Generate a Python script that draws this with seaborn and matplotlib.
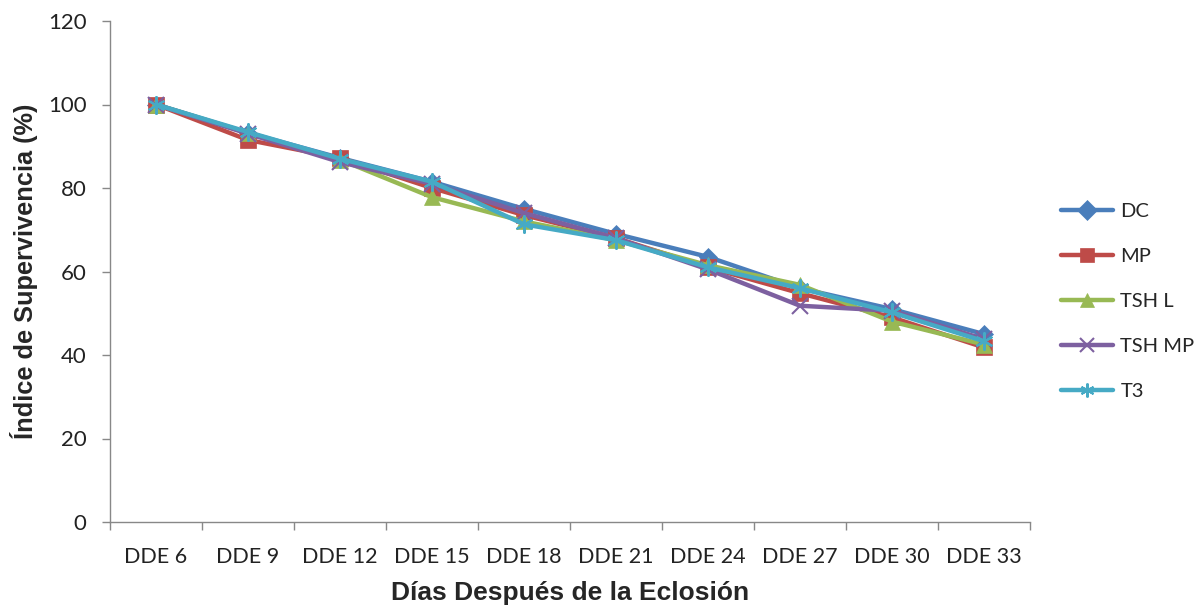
import matplotlib
matplotlib.use("Agg")
import matplotlib.pyplot as plt
import seaborn as sns
import pandas as pd
import numpy as np

categories = ["DDE 6", "DDE 9", "DDE 12", "DDE 15", "DDE 18", "DDE 21", "DDE 24", "DDE 27", "DDE 30", "DDE 33"]
dc = [100, 93.2, 87.2, 81.5, 75.0, 69.0, 63.5, 56.0, 51.0, 45.0]
mp = [100, 91.5, 87.2, 80.0, 73.5, 68.0, 61.0, 54.8, 49.0, 41.8]
tsh_l = [100, 93.2, 86.8, 77.8, 72.0, 67.5, 61.5, 56.8, 48.0, 42.5]
tsh_mp = [100, 93.0, 86.2, 81.0, 74.0, 68.0, 60.5, 51.8, 50.6, 43.8]
t3 = [100, 93.4, 87.0, 81.5, 71.3, 67.5, 61.0, 56.0, 50.2, 43.3]
series_names = ["DC", "MP", "TSH L", "TSH MP", "T3"]
y_ticks = [0, 20, 40, 60, 80, 100, 120]

colors = ["#4A7EBB", "#BE4B48", "#98B954", "#7D60A0", "#46AAC5"]
markers = ["D", "s", "^", "x", (6, 2, 0)]
msizes = [9, 11, 11, 12, 13]

df = pd.DataFrame({
    "cat": categories * 5,
    "val": dc + mp + tsh_l + tsh_mp + t3,
    "serie": sum([[n] * len(categories) for n in series_names], []),
})

sns.set_style("white")
plt.rcParams["font.family"] = ["Lato", "DejaVu Sans"]

fig = plt.figure(figsize=(12.04, 6.05), dpi=100)
ax = fig.add_axes([110 / 1204, 1 - 522 / 605, 920 / 1204, 501 / 605])

for name, c, m, ms in zip(series_names, colors, markers, msizes):
    sub = df[df["serie"] == name]
    sns.lineplot(data=sub, x="cat", y="val", ax=ax, color=c, marker=m, markersize=ms,
                 linewidth=3.2, markeredgecolor=c, markeredgewidth=1.5 if m in ("x", (6, 2, 0)) else 0.5,
                 label=name, sort=False)

ax.set_xlim(-0.5, len(categories) - 0.5)
ax.set_ylim(0, 120)
ax.set_yticks(y_ticks)
ax.set_xticks(range(len(categories)))
ax.set_xticklabels(categories)
ax.set_xticks(np.arange(-0.5, len(categories), 1), minor=True)
ax.tick_params(axis="x", which="major", length=0, labelsize=15.5, pad=18, colors="#222222")
ax.tick_params(axis="x", which="minor", length=6, width=1, color="#888888", direction="out", bottom=True)
ax.tick_params(axis="y", length=6, width=1, color="#888888", direction="out", left=True,
               labelsize=16, pad=11, colors="#222222")
for s in ["top", "right"]:
    ax.spines[s].set_visible(False)
for s in ["left", "bottom"]:
    ax.spines[s].set_color("#888888")
    ax.spines[s].set_linewidth(1)

ax.set_xlabel("Días Después de la Eclosión", fontsize=19, fontweight="bold",
              family=["Liberation Sans", "DejaVu Sans"], labelpad=10)
ax.set_ylabel("Índice de Supervivencia (%)", fontsize=18.3, fontweight="bold",
              family=["Liberation Sans", "DejaVu Sans"], labelpad=7)

leg = ax.legend(loc="center left", bbox_to_anchor=(1.025, 0.44), borderaxespad=0, frameon=False,
                fontsize=14.5, handlelength=2.6, labelspacing=1.38, handletextpad=0.35)
for h in leg.legend_handles:
    h.set_markersize(10)

fig.savefig("out.png", dpi=100)
